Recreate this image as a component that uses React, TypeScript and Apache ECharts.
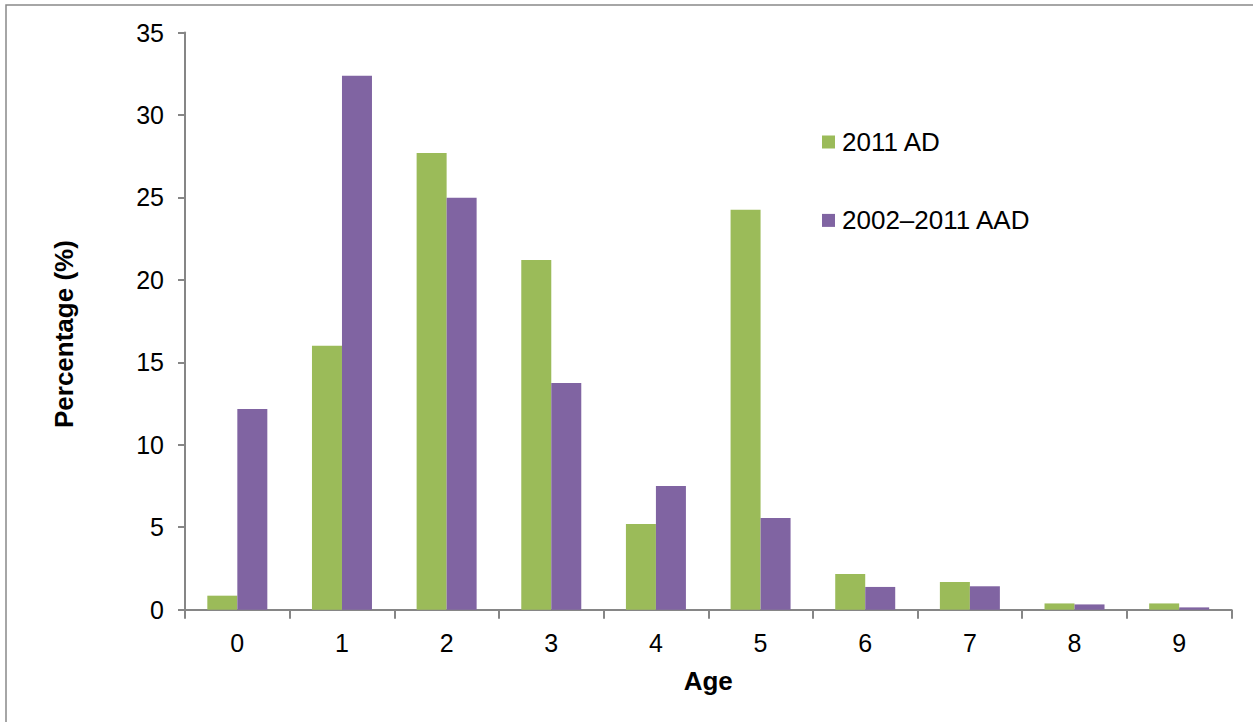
import React, { useEffect, useRef } from "react";
import * as echarts from "echarts";

// Age categories along the x axis
const ages = ["0", "1", "2", "3", "4", "5", "6", "7", "8", "9"];

// Percentage of catch at each age
const ad2011 = [0.85, 16.0, 27.7, 21.2, 5.2, 24.25, 2.17, 1.68, 0.38, 0.38];
const aad2002to2011 = [12.17, 32.37, 24.98, 13.75, 7.5, 5.56, 1.38, 1.42, 0.32, 0.14];

const seriesNames = ["2011 AD", "2002\u20132011 AAD"];
const seriesColors = ["#9BBB59", "#8064A2"];

const yMin = 0;
const yMax = 35;
const yStep = 5;

const FONT = "'Liberation Sans', Arial, sans-serif";
const AXIS_GREY = "#868686";

export default function App() {
  const ref = useRef<HTMLDivElement>(null);

  useEffect(() => {
    if (!ref.current) return;
    const chart = echarts.init(ref.current, null, { renderer: "svg" });
    chart.setOption({
      animation: false,
      backgroundColor: "#ffffff",
      textStyle: { fontFamily: FONT, color: "#000" },
      graphic: [
        {
          type: "rect",
          silent: true,
          shape: { x: 6, y: 5, width: 1270, height: 740 },
          style: { fill: "none", stroke: "#898989", lineWidth: 1.5 },
        },
      ],
      grid: { left: 185, top: 32.5, right: 21.5, bottom: 112.3, containLabel: false },
      legend: {
        orient: "vertical",
        left: 822,
        top: 128,
        padding: 0,
        icon: "rect",
        itemWidth: 13,
        itemHeight: 13,
        itemGap: 50.4,
        selectedMode: false,
        textStyle: {
          fontFamily: FONT,
          fontSize: 26,
          color: "#000",
          lineHeight: 28,
          padding: [0, 0, 0, 2],
        },
        data: seriesNames,
      },
      xAxis: {
        type: "category",
        data: ages,
        name: "Age",
        nameLocation: "middle",
        nameGap: 58,
        nameTextStyle: { fontFamily: FONT, fontSize: 26, fontWeight: "bold", color: "#000" },
        axisLine: { show: true, lineStyle: { color: AXIS_GREY, width: 2 } },
        axisTick: { show: true, length: 9, lineStyle: { color: AXIS_GREY, width: 2 } },
        axisLabel: { fontFamily: FONT, fontSize: 25, color: "#000", margin: 21 },
        splitLine: { show: false },
      },
      yAxis: {
        type: "value",
        min: yMin,
        max: yMax,
        interval: yStep,
        name: "Percentage (%)",
        nameLocation: "middle",
        nameGap: 108,
        nameTextStyle: {
          fontFamily: FONT,
          fontSize: 26,
          fontWeight: "bold",
          color: "#000",
          padding: [0, 26, 0, 0],
        },
        axisLine: { show: true, lineStyle: { color: AXIS_GREY, width: 2 } },
        axisTick: { show: true, length: 7, lineStyle: { color: AXIS_GREY, width: 2 } },
        axisLabel: { fontFamily: FONT, fontSize: 25, color: "#000", margin: 21 },
        splitLine: { show: false },
      },
      series: [
        {
          name: seriesNames[0],
          type: "bar",
          data: ad2011,
          barWidth: 30,
          barGap: "0%",
          itemStyle: { color: seriesColors[0] },
        },
        {
          name: seriesNames[1],
          type: "bar",
          data: aad2002to2011,
          barWidth: 30,
          barGap: "0%",
          itemStyle: { color: seriesColors[1] },
        },
      ],
    });
    return () => chart.dispose();
  }, []);

  return (
    <div
      ref={ref}
      style={{ position: "fixed", left: 0, top: 0, width: 1253, height: 722 }}
    />
  );
}
